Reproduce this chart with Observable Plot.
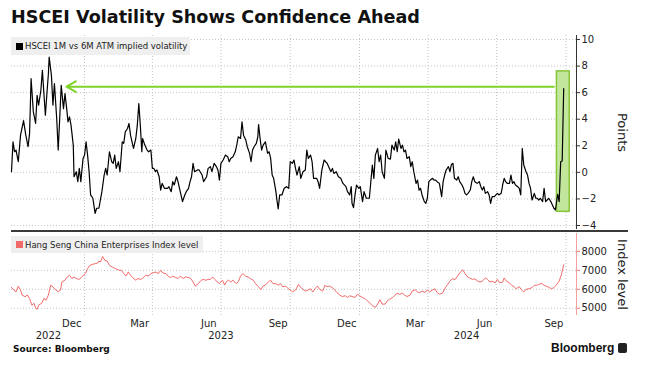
<!DOCTYPE html>
<html><head><meta charset="utf-8">
<script src="https://cdn.jsdelivr.net/npm/d3@7"></script>
<script src="https://cdn.jsdelivr.net/npm/@observablehq/plot@0.6"></script>
<style>
body{margin:0;background:#fff;}
#chart{position:relative;width:659px;height:368px;overflow:hidden;font-family:"DejaVu Sans",sans-serif;color:#222;}
#chart svg{position:absolute;left:0;}
.title{position:absolute;left:11px;top:7px;font-weight:bold;font-size:17.6px;white-space:nowrap;color:#111;}
.legend{position:absolute;left:11px;background:#efefef;font-size:8.5px;display:flex;align-items:center;white-space:nowrap;z-index:2;}
.legend .sw{display:inline-block;width:7px;height:7px;margin:0 2px 0 5px;}
.sep{position:absolute;left:11px;top:230px;width:617px;height:2px;background:#3a3a3a;z-index:2;}
.source{position:absolute;left:13px;top:344px;font-weight:bold;font-size:9px;color:#111;}
.logo{position:absolute;left:551px;top:341px;font-family:"Liberation Sans",sans-serif;font-weight:bold;font-size:12px;color:#111;}
.logo .ic{position:absolute;left:67px;top:2px;width:9px;height:10px;background:#222;border-radius:2px;}
</style></head>
<body><div id="chart"></div>
<script>
const title = "HSCEI Volatility Shows Confidence Ahead";
const volLabel = "HSCEI 1M vs 6M ATM implied volatility";
const indexLabel = "Hang Seng China Enterprises Index level";
const volAxisLabel = "Points";
const indexAxisLabel = "Index level";
const sourceText = "Source: Bloomberg";
const brand = "Bloomberg";

const volSeries = [
["2022-09-26",0.05],["2022-09-28",2.3],["2022-09-30",1.55],["2022-10-02",1.68],["2022-10-05",0.8],["2022-10-08",2.8],
["2022-10-12",3.9],["2022-10-15",2.8],["2022-10-18",1.93],["2022-10-20",2.93],["2022-10-22",7.05],["2022-10-25",4.55],
["2022-10-28",3.68],["2022-10-30",5.8],["2022-11-01",5.05],["2022-11-04",6.18],["2022-11-06",7.68],["2022-11-08",5.93],
["2022-11-10",4.3],["2022-11-12",5.93],["2022-11-14",7.43],["2022-11-15",8.68],["2022-11-18",7.3],["2022-11-20",5.05],
["2022-11-22",6.68],["2022-11-25",4.05],["2022-11-27",1.68],["2022-11-29",4.05],["2022-12-01",6.55],["2022-12-04",4.8],
["2022-12-06",5.93],["2022-12-08",4.93],["2022-12-10",3.8],["2022-12-12",4.18],["2022-12-14",3.55],["2022-12-17",2.05],
["2022-12-18",-0.33],["2022-12-21",0.05],["2022-12-23",-0.7],["2022-12-25",0.3],["2022-12-27",-0.7],["2022-12-30",1.05],
["2023-01-01",1.3],["2023-01-03",2.3],["2023-01-05",1.3],["2023-01-07",0.05],["2023-01-09",-1.7],["2023-01-12",-1.95],
["2023-01-15",-3.08],["2023-01-17",-2.7],["2023-01-20",-2.7],["2023-01-24",-1.45],["2023-01-27",-0.2],["2023-01-29",0.3],
["2023-01-31",-0.2],["2023-02-03",1.55],["2023-02-06",0.8],["2023-02-08",0.68],["2023-02-10",1.3],["2023-02-12",0.3],
["2023-02-15",0.8],["2023-02-17",0.05],["2023-02-20",2.3],["2023-02-22",2.18],["2023-02-24",3.05],["2023-02-27",3.3],
["2023-03-01",3.68],["2023-03-03",2.8],["2023-03-05",2.3],["2023-03-07",1.8],["2023-03-10",2.55],["2023-03-12",3.55],
["2023-03-14",5.18],["2023-03-16",3.55],["2023-03-18",1.55],["2023-03-19",2.55],["2023-03-22",2.05],["2023-03-25",1.68],
["2023-03-27",1.55],["2023-03-30",1.68],["2023-04-01",0.3],["2023-04-03",0.3],["2023-04-05",0.05],["2023-04-07",0.18],
["2023-04-10",-0.33],["2023-04-12",-1.33],["2023-04-14",-0.83],["2023-04-17",-1.2],["2023-04-21",-1.2],["2023-04-23",-1.08],
["2023-04-26",-1.45],["2023-04-28",-0.7],["2023-04-30",-0.95],["2023-05-03",-0.33],["2023-05-05",-0.7],["2023-05-08",-1.45],
["2023-05-11",-2.2],["2023-05-14",-1.7],["2023-05-16",-1.45],["2023-05-19",-1.2],["2023-05-21",-0.7],["2023-05-23",-0.33],
["2023-05-25",0.68],["2023-05-27",0.05],["2023-05-31",0.18],["2023-06-02",0.18],["2023-06-06",-0.2],["2023-06-08",-0.7],
["2023-06-12",-0.33],["2023-06-14",0.3],["2023-06-17",0.43],["2023-06-19",0.05],["2023-06-22",0.68],["2023-06-25",0.43],
["2023-06-27",0.18],["2023-06-29",-0.58],["2023-07-01",0.68],["2023-07-04",0.93],["2023-07-07",1.3],["2023-07-10",1.18],
["2023-07-12",0.8],["2023-07-14",1.05],["2023-07-17",1.18],["2023-07-20",1.55],["2023-07-22",2.05],["2023-07-24",2.68],
["2023-07-27",2.55],["2023-07-29",3.8],["2023-07-31",2.8],["2023-08-03",2.43],["2023-08-05",1.93],["2023-08-08",1.43],
["2023-08-10",0.8],["2023-08-12",1.68],["2023-08-14",1.93],["2023-08-17",2.18],["2023-08-19",2.68],["2023-08-20",3.6],
["2023-08-22",2.55],["2023-08-24",1.68],["2023-08-26",2.05],["2023-08-29",2.3],["2023-09-01",1.43],["2023-09-03",1.55],
["2023-09-05",1.05],["2023-09-07",-0.2],["2023-09-09",-0.45],["2023-09-12",-1.45],["2023-09-13",-1.95],["2023-09-15",-2.75],
["2023-09-17",-1.7],["2023-09-20",-1.7],["2023-09-23",-1.2],["2023-09-26",-1.08],["2023-09-29",-1.2],["2023-10-01",0.8],
["2023-10-04",0.68],["2023-10-06",0.93],["2023-10-08",0.3],["2023-10-10",-0.2],["2023-10-13",0.43],["2023-10-15",-0.45],
["2023-10-18",0.05],["2023-10-21",0.18],["2023-10-23",1.68],["2023-10-25",1.05],["2023-10-28",1.3],["2023-10-30",0.8],
["2023-11-01",-0.45],["2023-11-05",-0.45],["2023-11-07",-0.7],["2023-11-09",-1.2],["2023-11-12",0.18],["2023-11-15",0.93],
["2023-11-17",0.8],["2023-11-19",0.68],["2023-11-21",0.43],["2023-11-24",0.05],["2023-11-26",0.3],["2023-11-28",-0.08],
["2023-12-01",0.05],["2023-12-04",-0.33],["2023-12-07",-0.45],["2023-12-10",-0.83],["2023-12-14",-1.08],["2023-12-16",-1.45],
["2023-12-19",-1.7],["2023-12-21",-1.08],["2023-12-22",-2.33],["2023-12-24",-2.65],["2023-12-26",-1.7],["2023-12-28",-0.95],
["2023-12-31",-1.2],["2024-01-02",-1.08],["2024-01-05",-2.2],["2024-01-07",-1.45],["2024-01-10",-1.95],["2024-01-14",-1.95],
["2024-01-16",-0.7],["2024-01-18",0.55],["2024-01-20",-0.45],["2024-01-22",1.3],["2024-01-25",1.8],["2024-01-27",0.8],
["2024-01-29",1.3],["2024-01-31",0.05],["2024-02-03",-0.45],["2024-02-05",1.68],["2024-02-08",1.05],["2024-02-11",1.0],
["2024-02-13",2.05],["2024-02-16",1.68],["2024-02-18",2.3],["2024-02-20",1.55],["2024-02-22",2.5],["2024-02-25",1.8],
["2024-02-27",2.05],["2024-02-29",1.55],["2024-03-02",1.68],["2024-03-04",1.05],["2024-03-07",1.18],["2024-03-09",0.43],
["2024-03-11",0.8],["2024-03-13",0.05],["2024-03-16",-0.83],["2024-03-18",-0.58],["2024-03-20",-1.33],["2024-03-22",-1.2],
["2024-03-24",-1.7],["2024-03-27",-2.2],["2024-03-29",-2.33],["2024-03-31",-1.95],["2024-04-02",-0.7],["2024-04-04",-0.58],
["2024-04-07",-0.45],["2024-04-09",-0.58],["2024-04-11",-0.58],["2024-04-13",-0.7],["2024-04-16",-0.83],["2024-04-19",-1.83],
["2024-04-21",-0.7],["2024-04-23",-0.2],["2024-04-25",0.18],["2024-04-28",0.43],["2024-04-30",0.05],["2024-05-02",0.6],
["2024-05-04",0.68],["2024-05-06",-0.45],["2024-05-09",-0.58],["2024-05-11",-0.33],["2024-05-13",-0.7],["2024-05-16",-0.95],
["2024-05-18",-1.2],["2024-05-20",-1.58],["2024-05-22",-1.7],["2024-05-24",-1.58],["2024-05-27",-1.33],["2024-05-29",-0.7],
["2024-05-31",-0.33],["2024-06-02",-0.7],["2024-06-05",-0.83],["2024-06-08",-0.7],["2024-06-10",-1.08],["2024-06-12",-1.33],
["2024-06-14",-1.08],["2024-06-16",-1.58],["2024-06-19",-1.45],["2024-06-21",-1.7],["2024-06-23",-2.33],["2024-06-25",-1.83],
["2024-06-28",-1.83],["2024-06-30",-1.7],["2024-07-02",-1.58],["2024-07-04",-1.7],["2024-07-07",-1.58],["2024-07-09",-0.95],
["2024-07-11",-0.45],["2024-07-13",-0.7],["2024-07-15",-0.83],["2024-07-18",-0.83],["2024-07-20",-0.2],["2024-07-22",-0.83],
["2024-07-24",-0.7],["2024-07-26",-0.95],["2024-07-29",-1.08],["2024-07-31",-1.2],["2024-08-02",-1.7],["2024-08-04",1.8],
["2024-08-06",0.55],["2024-08-09",0.05],["2024-08-11",-0.2],["2024-08-13",-0.83],["2024-08-15",-1.2],["2024-08-17",-2.08],
["2024-08-20",-1.58],["2024-08-22",-1.95],["2024-08-24",-1.95],["2024-08-26",-2.08],["2024-08-28",-1.95],["2024-08-31",-2.2],
["2024-09-02",-1.2],["2024-09-04",-2.2],["2024-09-06",-2.08],["2024-09-08",-1.95],["2024-09-11",-2.2],["2024-09-13",-2.45],
["2024-09-15",-2.7],["2024-09-17",-2.83],["2024-09-20",-1.65],["2024-09-22",-2.2],["2024-09-24",0.8],["2024-09-26",0.85],
["2024-09-28",6.3]
];

const indexSeries = [
["2022-09-26",6100],["2022-09-29",5960],["2022-10-02",5870],["2022-10-05",6165],["2022-10-08",5960],["2022-10-10",5700],
["2022-10-14",5610],["2022-10-17",5700],["2022-10-20",5520],["2022-10-23",5170],["2022-10-26",5260],["2022-10-28",5000],
["2022-10-30",4950],["2022-11-01",5170],["2022-11-05",5260],["2022-11-08",5520],["2022-11-11",5430],["2022-11-14",5700],
["2022-11-17",6220],["2022-11-20",6130],["2022-11-24",5960],["2022-11-27",5870],["2022-11-30",5960],["2022-12-02",6390],
["2022-12-06",6480],["2022-12-09",6650],["2022-12-12",6740],["2022-12-15",6570],["2022-12-18",6650],["2022-12-21",6570],
["2022-12-25",6520],["2022-12-28",6650],["2022-12-31",6740],["2023-01-02",6830],["2023-01-05",7090],["2023-01-08",7260],
["2023-01-11",7310],["2023-01-15",7350],["2023-01-18",7380],["2023-01-20",7490],["2023-01-22",7430],["2023-01-25",7730],
["2023-01-28",7520],["2023-01-31",7490],["2023-02-03",7260],["2023-02-07",7170],["2023-02-11",7090],["2023-02-16",7000],
["2023-02-19",7000],["2023-02-22",6830],["2023-02-25",6700],["2023-02-28",6910],["2023-03-03",6740],["2023-03-06",6610],
["2023-03-10",6480],["2023-03-13",6570],["2023-03-16",6520],["2023-03-19",6570],["2023-03-23",6740],["2023-03-27",6700],
["2023-03-30",6830],["2023-04-02",6870],["2023-04-05",6910],["2023-04-09",6830],["2023-04-12",7000],["2023-04-15",6860],
["2023-04-19",6830],["2023-04-22",6690],["2023-04-25",6620],["2023-04-28",6690],["2023-05-02",6620],["2023-05-05",6570],
["2023-05-08",6690],["2023-05-12",6570],["2023-05-15",6650],["2023-05-19",6620],["2023-05-22",6570],["2023-05-25",6390],
["2023-05-28",6170],["2023-06-01",6300],["2023-06-04",6440],["2023-06-07",6520],["2023-06-11",6480],["2023-06-14",6520],
["2023-06-17",6520],["2023-06-20",6650],["2023-06-23",6520],["2023-06-26",6390],["2023-06-29",6300],["2023-07-03",6480],
["2023-07-06",6220],["2023-07-08",6390],["2023-07-11",6480],["2023-07-14",6390],["2023-07-17",6480],["2023-07-21",6300],
["2023-07-24",6390],["2023-07-27",6690],["2023-07-30",6830],["2023-08-03",6690],["2023-08-06",6650],["2023-08-09",6570],
["2023-08-13",6480],["2023-08-16",6300],["2023-08-20",6130],["2023-08-23",5990],["2023-08-26",6170],["2023-08-29",6220],
["2023-09-02",6390],["2023-09-05",6480],["2023-09-08",6300],["2023-09-12",6300],["2023-09-15",6220],["2023-09-18",6300],
["2023-09-21",6130],["2023-09-25",6170],["2023-09-28",6040],["2023-10-01",5960],["2023-10-04",5870],["2023-10-08",5960],
["2023-10-12",6260],["2023-10-15",6090],["2023-10-18",6000],["2023-10-21",5910],["2023-10-25",5970],["2023-10-28",6030],
["2023-10-31",5860],["2023-11-04",6090],["2023-11-06",6170],["2023-11-09",6000],["2023-11-13",5910],["2023-11-16",6210],
["2023-11-19",6140],["2023-11-22",6170],["2023-11-26",6090],["2023-11-29",5970],["2023-12-02",5830],["2023-12-06",5690],
["2023-12-09",5620],["2023-12-13",5660],["2023-12-16",5570],["2023-12-19",5660],["2023-12-22",5620],["2023-12-26",5570],
["2023-12-29",5740],["2024-01-01",5660],["2024-01-05",5570],["2024-01-08",5520],["2024-01-11",5400],["2024-01-14",5310],
["2024-01-18",5140],["2024-01-22",5050],["2024-01-25",5220],["2024-01-28",5450],["2024-01-31",5220],["2024-02-04",5220],
["2024-02-07",5400],["2024-02-10",5480],["2024-02-14",5570],["2024-02-17",5690],["2024-02-20",5790],["2024-02-23",5740],
["2024-02-27",5790],["2024-03-01",5690],["2024-03-04",5620],["2024-03-08",5690],["2024-03-11",5910],["2024-03-15",5970],
["2024-03-18",5860],["2024-03-21",5830],["2024-03-24",5910],["2024-03-28",5830],["2024-03-31",5970],["2024-04-03",5860],
["2024-04-07",5970],["2024-04-10",6030],["2024-04-13",5830],["2024-04-16",5740],["2024-04-20",5790],["2024-04-24",6090],
["2024-04-27",6260],["2024-04-30",6430],["2024-05-03",6550],["2024-05-07",6520],["2024-05-10",6690],["2024-05-13",6860],
["2024-05-17",7030],["2024-05-20",6830],["2024-05-23",6660],["2024-05-26",6600],["2024-05-30",6520],["2024-06-02",6550],
["2024-06-06",6430],["2024-06-09",6380],["2024-06-12",6430],["2024-06-16",6600],["2024-06-19",6520],["2024-06-22",6380],
["2024-06-25",6430],["2024-06-29",6340],["2024-07-02",6520],["2024-07-05",6340],["2024-07-09",6380],["2024-07-11",6600],
["2024-07-14",6430],["2024-07-18",6340],["2024-07-21",6210],["2024-07-24",6140],["2024-07-27",6030],["2024-07-31",6140],
["2024-08-03",5970],["2024-08-06",5860],["2024-08-09",6000],["2024-08-13",6030],["2024-08-17",6090],["2024-08-20",6210],
["2024-08-23",6210],["2024-08-26",6260],["2024-08-30",6310],["2024-09-02",6210],["2024-09-05",6170],["2024-09-09",6090],
["2024-09-12",6030],["2024-09-15",6090],["2024-09-18",6210],["2024-09-22",6430],["2024-09-25",6780],["2024-09-28",7290]
];

const xDomain = ["2022-09-26","2024-10-15"];
const volDomain = [-4.3, 10.3];
const indexDomain = [4620, 8940];
const volTicks = [-4,-2,0,2,4,6,8,10];
const indexTicks = [5000,6000,7000,8000];
const gridDates = ["2023-01-01","2023-04-01","2023-07-01","2023-10-01","2024-01-01","2024-04-01","2024-07-01","2024-10-01"];
const monthTickDates = ["2022-12-15","2023-03-15","2023-06-15","2023-09-15","2023-12-15","2024-03-15","2024-06-15","2024-09-15"];
const yearLabels = [["2022-11-14","2022"],["2023-07-01","2023"],["2024-05-22","2024"]];
const arrowDates = ["2024-09-15","2022-12-08"];
const arrowLevel = 6.45;
const highlightDates = ["2024-09-19","2024-10-06"];
const highlightRange = [-2.97, 7.6];

const parse = s => new Date(s + "T00:00:00Z");
const vol = volSeries.map(([d, v]) => ({date: parse(d), value: v}));
const idx = indexSeries.map(([d, v]) => ({date: parse(d), value: v}));
const xd = xDomain.map(parse);
const grid = {stroke: "#c4c4c4", strokeDasharray: "1,2", strokeWidth: 1};
const style = {fontFamily: "DejaVu Sans, sans-serif", fontSize: "10px", color: "#222", background: "transparent", overflow: "visible"};
const W = 659;

const chart = document.getElementById("chart");

const titleEl = document.createElement("div");
titleEl.className = "title"; titleEl.textContent = title;
chart.appendChild(titleEl);

const topPlot = Plot.plot({
  width: W, height: 232, marginTop: 35, marginBottom: 3, marginLeft: 11, marginRight: 83,
  style,
  x: {type: "utc", domain: xd, axis: null},
  y: {domain: volDomain},
  marks: [
    Plot.ruleY(volTicks, grid),
    Plot.ruleX(gridDates.map(parse), grid),
    Plot.rect([{x1: parse(highlightDates[0]), x2: parse(highlightDates[1]), y1: highlightRange[0], y2: highlightRange[1]}],
      {x1: "x1", x2: "x2", y1: "y1", y2: "y2", fill: "#c3e69d", stroke: "#86c43c", strokeWidth: 1.5}),
    Plot.line(vol, {x: "date", y: "value", stroke: "#000", strokeWidth: 1.2}),
    Plot.arrow([{x1: parse(arrowDates[0]), x2: parse(arrowDates[1]), y: arrowLevel}],
      {x1: "x1", x2: "x2", y1: "y", y2: "y", stroke: "#7fd32a", strokeWidth: 2, headLength: 8}),
    Plot.ruleX([xd[1]], {stroke: "#333", strokeWidth: 1}),
    Plot.axisY(volTicks, {anchor: "right", tickSize: 3, tickPadding: 2, label: null, stroke: "#333", fill: "#222"}),
    Plot.text([volAxisLabel], {text: d => d, frameAnchor: "right", textAnchor: "middle", dx: 45.5, rotate: 90, fontSize: 13, fill: "#222"})
  ]
});
topPlot.style.top = "0px";
chart.appendChild(topPlot);

const bottomPlot = Plot.plot({
  width: W, height: 114, marginTop: 2, marginBottom: 30, marginLeft: 11, marginRight: 83,
  style,
  x: {type: "utc", domain: xd},
  y: {domain: indexDomain},
  marks: [
    Plot.ruleY(indexTicks, grid),
    Plot.ruleX(gridDates.map(parse), grid),
    Plot.line(idx, {x: "date", y: "value", stroke: "#f26b6b", strokeWidth: 1}),
    Plot.ruleX([xd[1]], {stroke: "#f4a0a0", strokeWidth: 1}),
    Plot.axisY(indexTicks, {anchor: "right", tickSize: 3, tickPadding: 2, label: null, stroke: "#f07a7a", fill: "#222", tickFormat: d => String(d)}),
    Plot.axisX(monthTickDates.map(parse), {tickSize: 0, tickPadding: 4, tickFormat: d3.utcFormat("%b"), label: null, fill: "#222"}),
    Plot.text(yearLabels, {x: d => parse(d[0]), text: d => d[1], frameAnchor: "bottom", dy: 23, fill: "#222"}),
    Plot.text([indexAxisLabel], {text: d => d, frameAnchor: "right", textAnchor: "middle", dx: 46, rotate: 90, fontSize: 13, fill: "#222"})
  ]
});
bottomPlot.style.top = "231px";
chart.appendChild(bottomPlot);

function legend(text, color, top, width, height) {
  const el = document.createElement("div");
  el.className = "legend";
  el.style.top = top + "px"; el.style.width = width + "px"; el.style.height = height + "px";
  const sw = document.createElement("span"); sw.className = "sw"; sw.style.background = color;
  el.appendChild(sw);
  el.appendChild(document.createTextNode(text));
  chart.appendChild(el);
}
legend(volLabel, "#000", 37, 179, 18);
legend(indexLabel, "#f26b6b", 236, 192, 17);

const sep = document.createElement("div"); sep.className = "sep"; chart.appendChild(sep);
const src = document.createElement("div"); src.className = "source"; src.textContent = sourceText; chart.appendChild(src);
const logo = document.createElement("div"); logo.className = "logo"; logo.textContent = brand;
const ic = document.createElement("span"); ic.className = "ic"; logo.appendChild(ic);
chart.appendChild(logo);
</script>
</body></html>
